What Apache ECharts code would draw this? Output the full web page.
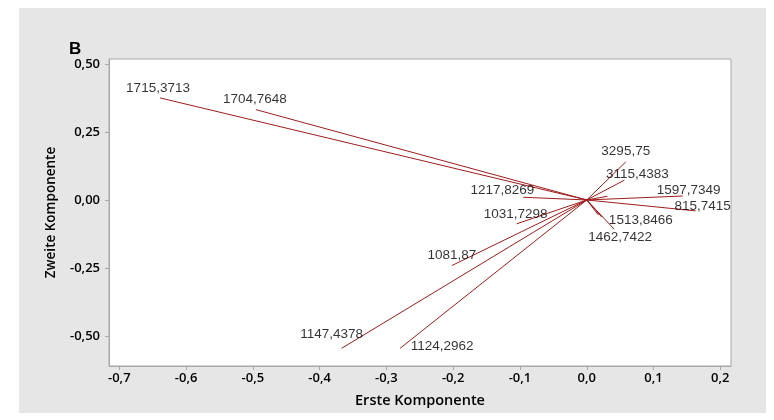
<!DOCTYPE html>
<html>
<head>
<meta charset="utf-8">
<script src="https://cdn.jsdelivr.net/npm/echarts@6/dist/echarts.min.js"></script>
<style>
html,body{margin:0;padding:0;background:#fff;}
#panel{position:absolute;left:19px;top:8px;width:747px;height:405px;background:#e6e6e6;}
#chart{position:absolute;left:0;top:0;width:774px;height:420px;}
</style>
</head>
<body>
<div id="panel"></div>
<div id="chart"></div>
<script>
// Loadings (first and second component) for each variable
const names = ['1715,3713','1704,7648','3295,75','3115,4383','','1597,7349','815,7415','1513,8466','','1462,7422','1217,8269','1031,7298','1081,87','1147,4378','1124,2962'];
const pc1 = [-0.639,-0.4955,0.0584,0.0564,0.031,0.1437,0.163,0.0225,0.0174,0.041,-0.095,-0.105,-0.202,-0.367,-0.2795];
const pc2 = [0.375,0.332,0.140,0.073,0.0135,0.0146,-0.040,-0.063,-0.055,-0.107,0.010,-0.0876,-0.241,-0.545,-0.545];
const xTicks = [-0.7,-0.6,-0.5,-0.4,-0.3,-0.2,-0.1,0.0,0.1,0.2];
const yTicks = [-0.5,-0.25,0,0.25,0.5];
// label placement (pixel offsets from vector tip), styling only
const labelOffsets = [[-2,-10],[-1,-10],[0,-11],[13,-6],[0,0],[6,-6],[7,-5],[39,3],[0,0],[6,8],[-21,-7],[-1,-10],[0,-10],[-10,-14],[42,-2]];

const lineColor = '#a01c1c';
const series = [];
names.forEach((n, i) => {
  series.push({
    type: 'line',
    data: [[0, 0], [pc1[i], pc2[i]]],
    symbol: 'none',
    lineStyle: {color: lineColor, width: 1},
    silent: true,
    z: 2
  });
});
series.push({
  type: 'scatter',
  symbolSize: 1,
  itemStyle: {color: 'rgba(0,0,0,0)'},
  data: names.map((n, i) => ({
    value: [pc1[i], pc2[i]],
    name: n,
    label: {offset: labelOffsets[i]}
  })),
  label: {
    show: true,
    position: 'inside',
    formatter: p => p.name,
    color: '#000',
    fontFamily: 'Liberation Sans',
    fontSize: 13.5
  },
  z: 3
});

const fmt2 = v => v.toFixed(2).replace('.', ',');
const fmt1 = v => (Math.abs(v) < 1e-9 ? 0 : v).toFixed(1).replace('.', ',');
const axisLabelStyle = {color: '#000', fontFamily: 'Open Sans', fontWeight: 600, fontSize: 13};

const chart = echarts.init(document.getElementById('chart'), null, {renderer: 'canvas'});
chart.setOption({
  animation: false,
  backgroundColor: 'transparent',
  title: {
    text: 'B', left: 64, top: 36,
    textStyle: {fontFamily: 'Liberation Sans', fontWeight: 'bold', fontSize: 17, color: '#000'}
  },
  grid: {
    left: 109, right: 43, top: 59, bottom: 54,
    show: true, backgroundColor: '#fff', borderColor: '#a8a8a8', borderWidth: 1
  },
  xAxis: {
    type: 'value', min: -0.7154, max: 0.216,
    name: 'Erste Komponente', nameLocation: 'middle', nameGap: 27,
    nameTextStyle: {fontFamily: 'Open Sans', fontWeight: 600, fontSize: 14.5, color: '#000'},
    axisLine: {show: true, onZero: false, lineStyle: {color: '#a8a8a8'}},
    axisTick: {show: true, customValues: xTicks, length: 4, lineStyle: {color: '#a8a8a8'}},
    axisLabel: Object.assign({customValues: xTicks, margin: 6, formatter: fmt1}, axisLabelStyle),
    splitLine: {show: false}
  },
  yAxis: {
    type: 'value', min: -0.61, max: 0.518,
    name: 'Zweite Komponente', nameLocation: 'middle', nameGap: 51, nameRotate: 90,
    nameTextStyle: {fontFamily: 'Open Sans', fontWeight: 600, fontSize: 13.5, color: '#000'},
    axisLine: {show: true, onZero: false, lineStyle: {color: '#a8a8a8'}},
    axisTick: {show: true, customValues: yTicks, length: 4, lineStyle: {color: '#a8a8a8'}},
    axisLabel: Object.assign({customValues: yTicks, margin: 9, formatter: fmt2}, axisLabelStyle),
    splitLine: {show: false}
  },
  series: series
});
</script>
</body>
</html>
